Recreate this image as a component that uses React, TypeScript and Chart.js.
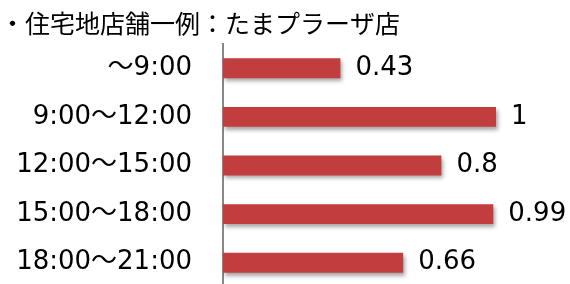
import React, { useEffect, useRef } from "react";
import { Chart, registerables } from "chart.js";

Chart.register(...registerables);

const titleText = "・住宅地店舗一例：たまプラーザ店";
const categories = ["～9:00", "9:00～12:00", "12:00～15:00", "15:00～18:00", "18:00～21:00"];
const values = [0.43, 1, 0.8, 0.99, 0.66];

const LABEL_FONT = "'DejaVu Sans', 'Noto Sans CJK JP', sans-serif";

const shadowPlugin = {
  id: "barShadow",
  beforeDatasetsDraw(chart: any) {
    const ctx = chart.ctx;
    ctx.save();
    ctx.shadowColor = "rgba(0,0,0,0.35)";
    ctx.shadowBlur = 4;
    ctx.shadowOffsetX = 2;
    ctx.shadowOffsetY = 3;
  },
  afterDatasetsDraw(chart: any) {
    chart.ctx.restore();
  },
};

const valueLabelPlugin = {
  id: "valueLabels",
  afterDatasetsDraw(chart: any) {
    const ctx = chart.ctx;
    const meta = chart.getDatasetMeta(0);
    ctx.save();
    ctx.font = `26px ${LABEL_FONT}`;
    ctx.fillStyle = "#000";
    ctx.textAlign = "left";
    ctx.textBaseline = "middle";
    meta.data.forEach((bar: any, i: number) => {
      ctx.fillText(String(chart.data.datasets[0].data[i]), bar.x + 15, bar.y);
    });
    ctx.restore();
  },
};

export default function App() {
  const ref = useRef<HTMLCanvasElement | null>(null);

  useEffect(() => {
    if (!ref.current) return;
    const chart = new Chart(ref.current, {
      type: "bar",
      data: {
        labels: categories,
        datasets: [
          {
            data: values,
            backgroundColor: (c: any) => {
              const el = c.element;
              const ctx = c.chart.ctx;
              if (!el || el.y === undefined) return "#c23d3d";
              const h = el.height || 20;
              const top = el.y - h / 2;
              const g = ctx.createLinearGradient(0, top, 0, top + h);
              if (c.dataIndex === values.length - 1) {
                g.addColorStop(0, "#c44242");
                g.addColorStop(0.15, "#a03030");
                g.addColorStop(1, "#9a2d2d");
              } else {
                g.addColorStop(0, "#d24545");
                g.addColorStop(0.55, "#c43e3e");
                g.addColorStop(1, "#a43333");
              }
              return g;
            },
            borderWidth: 0,
            barPercentage: 0.41,
            categoryPercentage: 1,
          },
        ],
      },
      options: {
        indexAxis: "y",
        responsive: false,
        animation: false,
        devicePixelRatio: 1,
        layout: { padding: { left: 0, right: 0, top: 0, bottom: 3 } },
        plugins: {
          legend: { display: false },
          tooltip: { enabled: false },
          title: {
            display: true,
            text: titleText,
            align: "start",
            color: "#000",
            font: { family: "'Noto Sans CJK JP', sans-serif", size: 25, weight: "normal", lineHeight: 1.2 },
            padding: { top: 8, bottom: 6 },
          },
        },
        scales: {
          x: {
            display: false,
            min: 0,
            max: 1.271,
            grid: { display: false },
          },
          y: {
            grid: { display: false, drawTicks: false },
            border: { display: true, color: "#878787", width: 2 },
            ticks: {
              color: "#000",
              padding: 31,
              font: { family: LABEL_FONT, size: 26 },
            },
            afterFit: (scale: any) => {
              scale.width = 223;
              scale.paddingTop = 0;
              scale.paddingBottom = 0;
            },
          },
        },
      },
      plugins: [shadowPlugin, valueLabelPlugin],
    } as any);
    return () => chart.destroy();
  }, []);

  return (
    <div style={{ position: "fixed", left: 0, top: 0, width: 570, height: 290, background: "#fff" }}>
      <canvas ref={ref} width={570} height={290} />
    </div>
  );
}
